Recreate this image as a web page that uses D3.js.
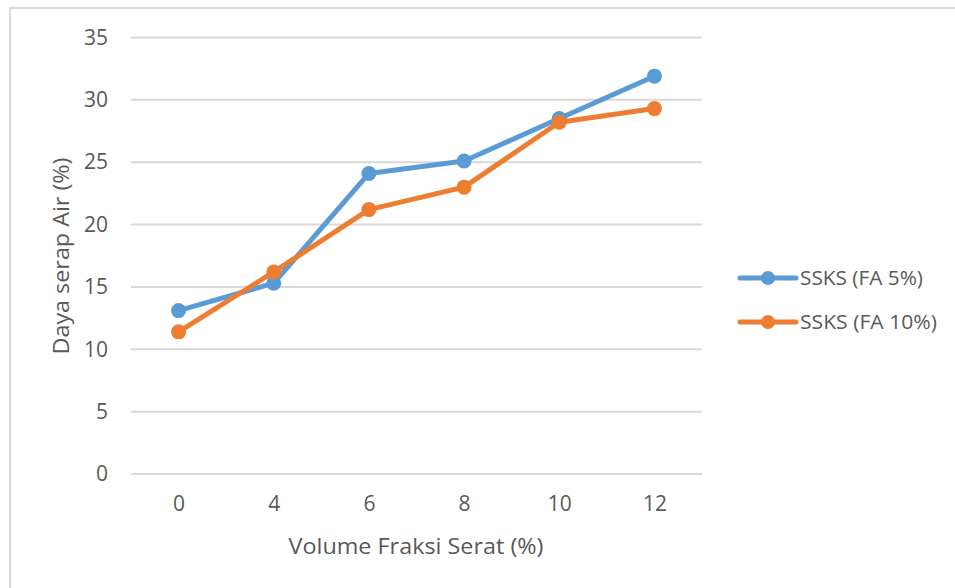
<!DOCTYPE html>
<html>
<head>
<meta charset="utf-8">
<script src="https://cdn.jsdelivr.net/npm/d3@7"></script>
<style>
  html, body { margin: 0; padding: 0; background: #fff; }
  svg text { font-family: "Open Sans", "Noto Sans", sans-serif; fill: #595959; }
</style>
</head>
<body>
<svg id="chart" width="955" height="588"></svg>
<script>
// Fibre volume fraction (%) categories
const categories = ["0", "4", "6", "8", "10", "12"];
// Water absorption (%) for each mix
const seriesNames = ["SSKS (FA 5%)", "SSKS (FA 10%)"];
const fa5Values = [13.1, 15.3, 24.1, 25.1, 28.5, 31.9];
const fa10Values = [11.4, 16.2, 21.2, 23.0, 28.2, 29.3];
const seriesColors = ["#5b9bd5", "#ed7d31"];
const yTicks = [0, 5, 10, 15, 20, 25, 30, 35];
const xTitle = "Volume Fraksi Serat (%)";
const yTitle = "Daya serap Air (%)";

const svg = d3.select("#chart");

// chart frame
svg.append("rect")
  .attr("x", 10).attr("y", 8)
  .attr("width", 960).attr("height", 600)
  .attr("fill", "none")
  .attr("stroke", "#d9d9d9")
  .attr("stroke-width", 2);

const plot = { left: 131, right: 702, top: 37.5, bottom: 474 };

const x = d3.scalePoint()
  .domain(categories)
  .range([plot.left, plot.right])
  .padding(0.5);

const y = d3.scaleLinear()
  .domain([0, 35])
  .range([plot.bottom, plot.top]);

// horizontal gridlines
svg.append("g")
  .selectAll("line")
  .data(yTicks)
  .join("line")
  .attr("x1", plot.left).attr("x2", plot.right)
  .attr("y1", d => y(d)).attr("y2", d => y(d))
  .attr("stroke", "#d9d9d9")
  .attr("stroke-width", 2);

// y axis labels
const yAxis = d3.axisLeft(y).tickValues(yTicks).tickSize(0).tickPadding(0);
svg.append("g")
  .attr("transform", `translate(${plot.left - 23},0)`)
  .call(yAxis)
  .call(g => g.select(".domain").remove())
  .call(g => g.selectAll("text")
    .attr("font-size", 21)
    .style("font-family", "'Open Sans', sans-serif")
    .attr("fill", "#595959"));

// x axis labels
const xAxis = d3.axisBottom(x).tickSize(0).tickPadding(0);
svg.append("g")
  .attr("transform", `translate(0,${plot.bottom + 22})`)
  .call(xAxis)
  .call(g => g.select(".domain").remove())
  .call(g => g.selectAll("text")
    .attr("font-size", 21)
    .style("font-family", "'Open Sans', sans-serif")
    .attr("fill", "#595959"));

// axis titles
svg.append("text")
  .attr("x", 416)
  .attr("y", 554)
  .attr("text-anchor", "middle")
  .attr("font-size", 21)
  .attr("textLength", 255)
  .attr("lengthAdjust", "spacingAndGlyphs")
  .text(xTitle);

svg.append("text")
  .attr("transform", `translate(69,256) rotate(-90)`)
  .attr("text-anchor", "middle")
  .attr("font-size", 21)
  .attr("textLength", 197)
  .attr("lengthAdjust", "spacingAndGlyphs")
  .text(yTitle);

// series
const series = [fa5Values, fa10Values].map((vals, i) => ({
  name: seriesNames[i],
  color: seriesColors[i],
  points: categories.map((c, j) => ({ c, v: vals[j] }))
}));

const line = d3.line().x(d => x(d.c)).y(d => y(d.v));

const sg = svg.append("g")
  .selectAll("g")
  .data(series)
  .join("g");

sg.append("path")
  .attr("d", d => line(d.points))
  .attr("fill", "none")
  .attr("stroke", d => d.color)
  .attr("stroke-width", 5)
  .attr("stroke-linejoin", "round");

sg.selectAll("circle")
  .data(d => d.points.map(p => ({ ...p, color: d.color })))
  .join("circle")
  .attr("cx", d => x(d.c))
  .attr("cy", d => y(d.v))
  .attr("r", 7.5)
  .attr("fill", d => d.color);

// legend
const legendWidths = [123, 137];
const legend = svg.append("g")
  .selectAll("g")
  .data(series)
  .join("g")
  .attr("transform", (d, i) => `translate(740,${278 + i * 44})`);

legend.append("line")
  .attr("x1", 0).attr("x2", 56)
  .attr("stroke", d => d.color)
  .attr("stroke-width", 5)
  .attr("stroke-linecap", "round");

legend.append("circle")
  .attr("cx", 28).attr("r", 7)
  .attr("fill", d => d.color);

legend.append("text")
  .attr("x", 60)
  .attr("dy", "0.35em")
  .attr("font-size", 19.5)
  .attr("textLength", (d, i) => legendWidths[i])
  .attr("lengthAdjust", "spacingAndGlyphs")
  .text(d => d.name);
</script>
</body>
</html>
